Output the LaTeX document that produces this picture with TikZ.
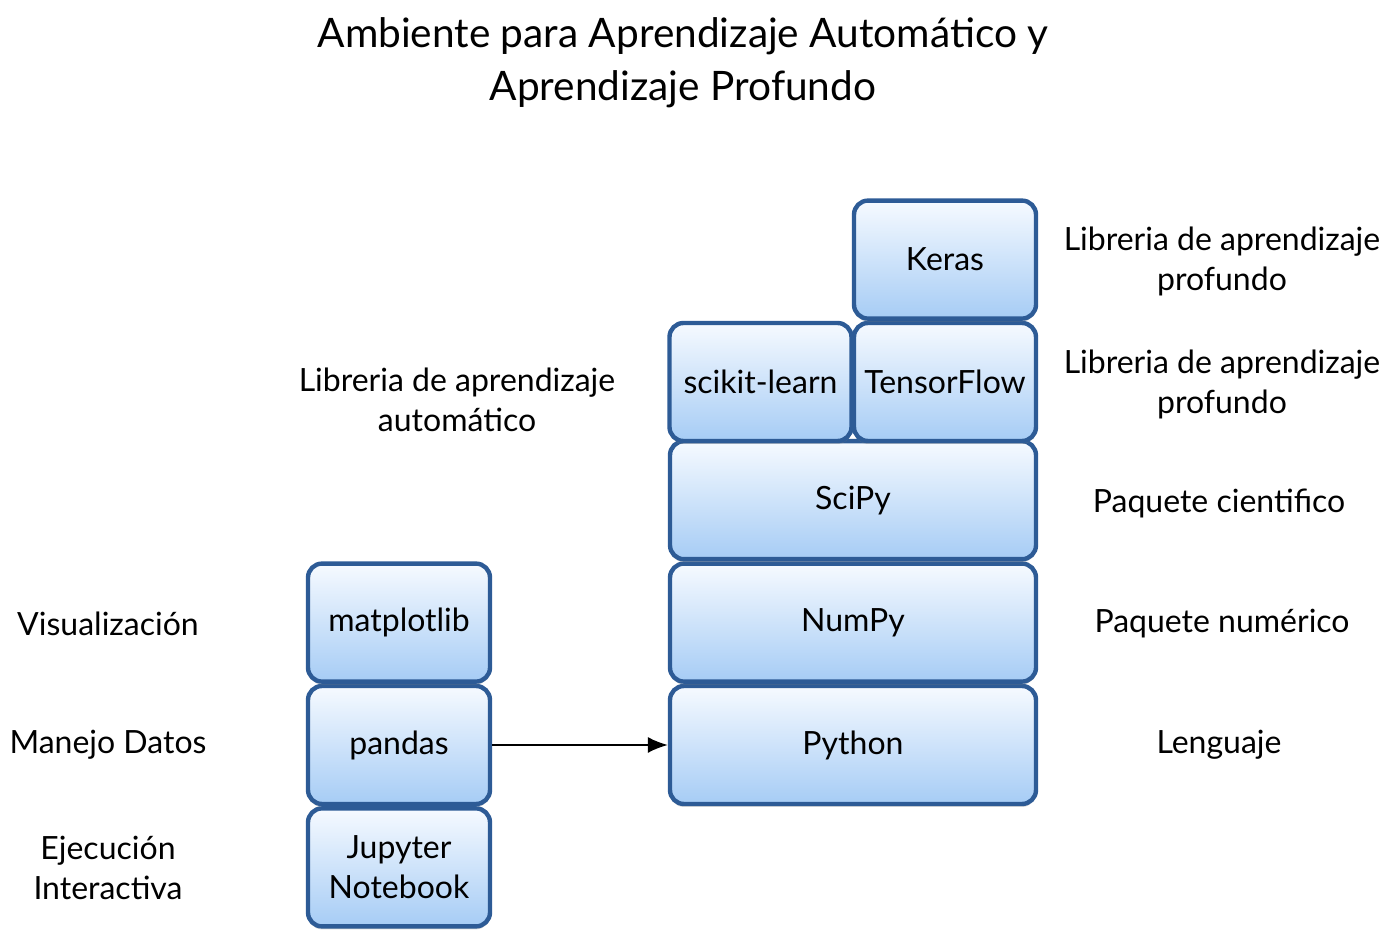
\documentclass[tikz,border=0pt]{standalone}
\usepackage{fontspec}
\setmainfont{Lato}
\usepackage{xcolor}
\usetikzlibrary{positioning,shadows,arrows.meta}

\definecolor{boxline}{HTML}{2D5B96}
\definecolor{boxtop}{HTML}{F6FAFF}
\definecolor{boxbottom}{HTML}{A6CCF5}

\begin{document}
\begin{tikzpicture}[x=0.5pt,y=-0.5pt,
box/.style={draw=boxline,line width=2.2pt,rounded corners=7pt,
    minimum height=59pt,minimum width=91pt,inner sep=0pt,
    top color=boxtop,bottom color=boxbottom,
    drop shadow={shadow xshift=0pt,shadow yshift=-1.5pt,opacity=0.3},
    align=center,font=\fontsize{16}{20}\selectfont},
widebox/.style={box,minimum width=183pt},
note/.style={align=center,font=\fontsize{16}{20}\selectfont}]
\useasboundingbox (0,0) rectangle (1394,940);

\node (title) [align=center,font=\fontsize{20.3}{26.5}\selectfont] at (683,63)
    {Ambiente para Aprendizaje Automático y\\ Aprendizaje Profundo};

% pila de la derecha
\node (python) [widebox] at (853,745) {Python};
\node (numpy) [widebox,above=0pt of python] {NumPy};
\node (scipy) [widebox,above=0pt of numpy] {SciPy};
\node (tflow) [box] at (945,382) {TensorFlow};
\node (sklearn) [box] at (760.5,382) {scikit-learn};
\node (keras) [box,above=0pt of tflow] {Keras};

% pila de la izquierda
\node (pandas) [box] at (399,745) {pandas};
\node (mpl) [box,above=0pt of pandas] {matplotlib};
\node (jupyter) [box,below=0pt of pandas] {Jupyter\\ Notebook};

\draw [-{Latex[length=10pt,width=8pt]},line width=0.8pt] (pandas) -- (python);

% textos
\node (kerasnote) [note] at (1222,261) {Libreria de aprendizaje\\ profundo};
\node (tflownote) [note] at (1222,384) {Libreria de aprendizaje\\ profundo};
\node (scipynote) [note] at (1219,503) {Paquete cientifico};
\node (numpynote) [note] at (1222,624) {Paquete numérico};
\node (pythonnote) [note] at (1219,745) {Lenguaje};
\node (sklearnnote) [note] at (457,400) {Libreria de aprendizaje\\ automático};
\node (mplnote) [note] at (108,624) {Visualización};
\node (pandasnote) [note] at (108,745) {Manejo Datos};
\node (jupyternote) [note] at (108,868) {Ejecución\\ Interactiva};
\end{tikzpicture}
\end{document}
